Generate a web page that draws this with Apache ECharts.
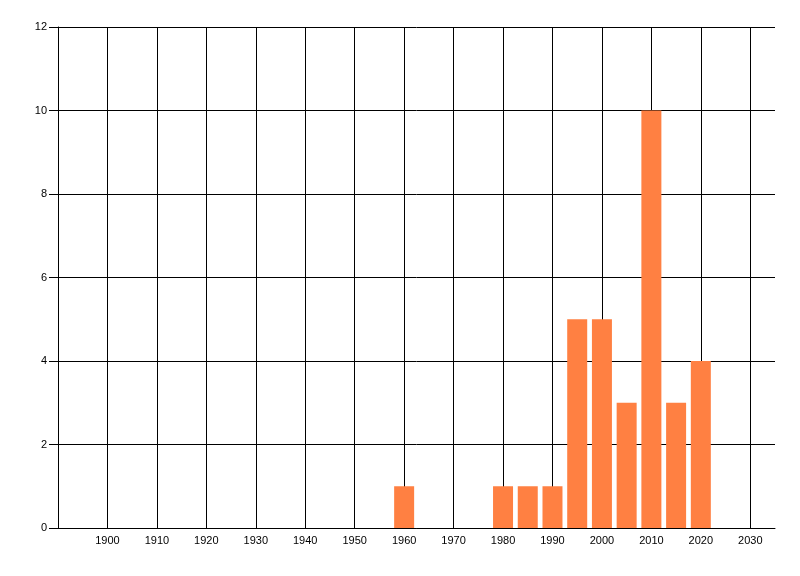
<!DOCTYPE html>
<html>
<head>
<meta charset="utf-8">
<script src="https://cdn.jsdelivr.net/npm/echarts@6/dist/echarts.min.js"></script>
<style>
  html, body { margin: 0; padding: 0; background: #fff; }
  #box01 { width: 800px; height: 576px; }
</style>
</head>
<body>
<div id="box01"></div>
<script>
// 数据
var years = [1960, 1980, 1985, 1990, 1995, 2000, 2005, 2010, 2015, 2020];
var counts = [1, 1, 1, 1, 5, 5, 3, 10, 3, 4];
var xMin = 1890, xMax = 2035, xStep = 10;
var yMin = 0, yMax = 12, yStep = 2;

var myChart = echarts.init(document.getElementById('box01'));

var barData = years.map(function (y, i) { return [y, counts[i]]; });

var labelFont = { color: '#000', fontFamily: 'Liberation Sans', fontSize: 11 };

var option = {
    animation: false,
    backgroundColor: '#fff',
    grid: { left: 58, top: 27, right: 25, bottom: 48 },
    xAxis: {
        type: 'value',
        min: xMin,
        max: xMax,
        interval: xStep,
        axisLine: { show: true, onZero: false, lineStyle: { color: '#000', width: 1 } },
        axisTick: { show: false },
        axisLabel: Object.assign({
            margin: 7,
            showMinLabel: false,
            showMaxLabel: false,
            formatter: function (v) { return v === xMin || v === xMax ? '' : String(v); }
        }, labelFont),
        splitLine: { show: true, showMinLine: false, showMaxLine: false, lineStyle: { color: '#000', width: 1 } }
    },
    yAxis: {
        type: 'value',
        min: yMin,
        max: yMax,
        interval: yStep,
        axisLine: { show: true, lineStyle: { color: '#000', width: 1 } },
        axisTick: { show: true, length: 9, lineStyle: { color: '#000' } },
        axisLabel: Object.assign({ margin: 11 }, labelFont),
        splitLine: { show: true, lineStyle: { color: '#000', width: 1 } }
    },
    series: [
        {
            type: 'bar',
            data: barData,
            barWidth: 20,
            itemStyle: { color: '#ff8042' }
        }
    ]
};

myChart.setOption(option);
</script>
</body>
</html>
